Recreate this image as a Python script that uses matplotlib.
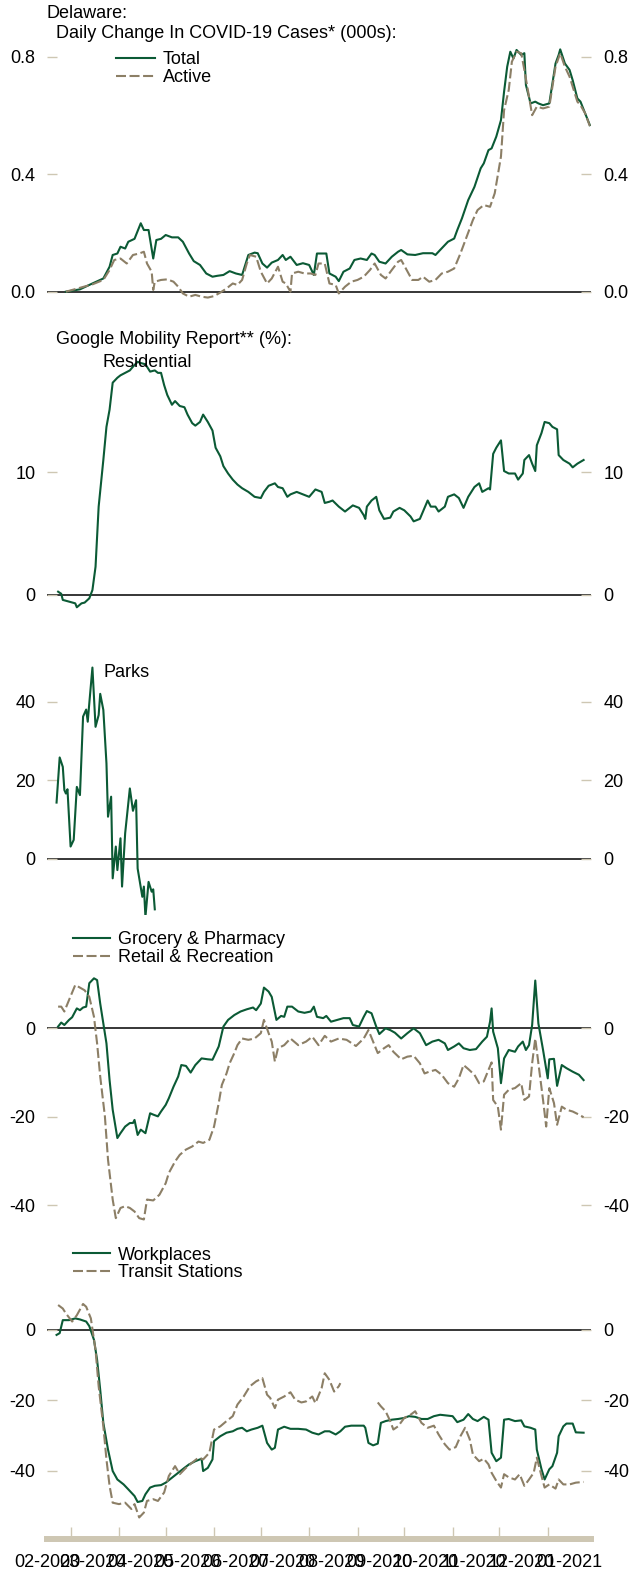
import numpy as np
import pandas as pd
import matplotlib
matplotlib.use('Agg')
import matplotlib.pyplot as plt
import matplotlib.dates as mdates

plt.rcParams['font.family'] = ['Liberation Sans', 'DejaVu Sans']

GREEN = '#0b5a35'
TAN = '#8c7f66'
TICK = '#cec7b3'
FS = 13

START = pd.Timestamp('2020-02-15')
END = pd.Timestamp('2021-01-29')

# daily change in covid-19 cases (000s), x = days since START
total_day = [12,21,29,36,40,42,45,47,50,52,56,60,62,65,68,70,73,76,80,84,87,91,94,98,102,106,109,113,117,121,
             125,129,133,135,138,141,144,148,151,153,156,160,164,168,171,173,177,179,181,185,187,190,194,197,201,205,208,210,213,217,
             221,225,227,231,236,241,247,249,252,257,261,263,266,270,274,278,280,283,285,288,291,293,295,297,299,301,304,306,307,310,
             313,315,318,322,326,328,329,332,335,337,340,342,345,348]
total_val = [0.0,0.008,0.028,0.045,0.085,0.125,0.13,0.153,0.147,0.17,0.18,0.233,0.21,0.21,0.113,0.176,0.18,0.193,0.185,0.185,
             0.17,0.13,0.104,0.091,0.062,0.051,0.054,0.057,0.07,0.062,0.057,0.125,0.133,0.131,0.096,0.082,0.099,0.108,0.125,0.108,
             0.119,0.091,0.097,0.091,0.057,0.13,0.13,0.13,0.062,0.051,0.036,0.068,0.079,0.108,0.113,0.108,0.13,0.125,0.102,0.096,
             0.119,0.136,0.142,0.127,0.125,0.131,0.131,0.125,0.142,0.17,0.181,0.21,0.25,0.312,0.357,0.42,0.437,0.482,0.488,0.528,
             0.584,0.681,0.766,0.817,0.794,0.823,0.806,0.812,0.704,0.641,0.647,0.641,0.635,0.641,0.777,0.806,0.825,0.777,0.755,0.72,
             0.658,0.647,0.607,0.567]
active_day = [12,29,36,40,43,47,51,55,59,62,64,67,68,69,73,77,81,84,87,91,95,99,103,107,111,115,119,122,125,128,
              130,134,137,141,144,148,151,153,156,157,161,165,169,172,174,178,181,185,187,191,195,199,203,207,210,214,217,221,225,227,
              230,234,238,241,245,249,253,257,261,265,269,273,276,280,284,287,291,293,296,298,301,304,306,309,311,314,318,322,326,329,
              332,335,337,340,342,345,348]
active_val = [0.0,0.025,0.04,0.074,0.108,0.113,0.096,0.125,0.13,0.136,0.096,0.068,0.006,0.034,0.04,0.042,0.034,0.017,-0.006,-0.017,
              -0.011,-0.017,-0.02,-0.015,-0.003,0.011,0.028,0.023,0.04,0.096,0.125,0.119,0.068,0.028,0.045,0.085,0.034,0.028,0.0,0.062,
              0.068,0.062,0.062,0.057,0.096,0.096,0.028,0.023,-0.006,0.017,0.034,0.04,0.051,0.074,0.096,0.057,0.045,0.074,0.102,0.108,
              0.079,0.04,0.04,0.051,0.034,0.04,0.062,0.068,0.079,0.13,0.187,0.244,0.278,0.295,0.289,0.335,0.46,0.618,0.687,0.783,
              0.817,0.812,0.755,0.664,0.601,0.63,0.624,0.63,0.766,0.812,0.766,0.732,0.698,0.647,0.635,0.607,0.564]

# google mobility report (%)
res_day = [7,9,10,14,18,19,22,24,27,29,31,33,36,38,40,42,45,47,50,53,55,58,60,63,66,69,71,73,75,77,
           80,82,85,88,90,93,95,98,100,103,106,108,111,113,116,119,122,125,129,133,137,139,142,146,148,151,154,156,160,164,
           168,172,176,178,181,183,187,191,194,196,200,203,204,205,208,211,213,216,220,222,226,229,233,235,239,242,244,246,249,251,
           255,257,261,264,267,270,274,277,279,283,284,286,288,291,293,296,300,302,305,306,309,311,313,314,317,319,322,324,327,328,
           331,335,337,340,344]
res_val = [0.27,0.1,-0.4,-0.54,-0.68,-1.0,-0.68,-0.62,-0.27,0.4,2.3,7.2,11.0,13.7,15.1,17.3,17.7,17.9,18.1,18.3,
           18.6,19.0,18.9,18.8,18.2,18.3,18.1,18.1,17.1,16.3,15.5,15.8,15.4,15.3,14.7,14.0,13.8,14.1,14.7,14.1,
           13.4,12.0,11.3,10.5,9.9,9.4,9.0,8.7,8.4,8.0,7.9,8.4,8.9,9.1,8.8,8.7,8.0,8.2,8.4,8.2,
           8.0,8.6,8.4,7.5,7.6,7.7,7.2,6.8,7.1,7.3,7.1,6.5,6.2,7.2,7.7,8.0,6.9,6.2,6.3,6.8,
           7.1,6.9,6.4,6.0,6.2,7.1,7.7,7.2,7.2,6.8,7.2,8.0,8.2,7.9,7.1,8.0,8.8,9.1,8.4,8.7,
           8.6,11.5,12.0,12.6,10.1,9.9,9.9,9.4,9.9,11.0,11.4,10.7,10.1,12.2,13.2,14.1,14.0,13.7,13.5,11.4,
           11.0,10.7,10.4,10.7,11.0]

parks_day = [6,8,10,11,12,13,15,17,19,21,23,25,26,27,29,31,33,34,36,38,39,41,42,44,45,47,48,50,53,55,57,58,61,62,63,65,67,68,69]
parks_val = [14.3,25.8,23.4,17.5,16.6,17.7,3.1,4.8,18.3,16.2,36.2,38.0,34.9,39.6,48.7,33.6,36.6,42.0,37.9,24.3,
             10.7,15.8,-5.0,3.1,-2.9,5.2,-7.1,6.5,17.9,12.2,14.9,-2.5,-9.7,-7.1,-14.8,-5.9,-8.4,-7.8,-12.9]

groc_day = [7,9,11,14,16,19,21,23,25,27,30,32,34,38,40,42,45,47,50,53,55,56,58,60,63,66,68,71,73,76,
            78,81,84,86,89,92,95,99,103,106,110,113,116,120,124,128,132,134,137,139,142,144,147,150,152,154,157,161,165,169,
            171,173,177,179,182,186,190,194,196,200,203,205,208,211,213,217,220,223,227,231,235,239,243,247,251,255,257,261,264,267,
            271,275,279,282,284,285,286,289,291,293,296,300,302,305,307,309,311,313,315,318,321,322,325,327,330,333,337,341,344]
groc_val = [0.4,1.3,0.75,1.9,2.5,4.5,4.1,4.7,4.9,10.2,11.3,10.9,5.6,-3.4,-11.7,-18.4,-24.8,-23.7,-22.2,-21.4,
            -21.4,-20.7,-24.1,-22.9,-23.7,-19.2,-19.5,-19.9,-18.8,-17.3,-15.8,-13.2,-10.9,-8.3,-8.5,-10.0,-8.3,-6.8,-7.0,-7.1,
            -4.1,0.4,1.9,3.0,3.8,4.3,4.7,4.1,5.6,9.2,8.3,7.1,1.9,2.8,2.6,4.9,4.9,3.8,3.5,3.8,
            4.9,2.6,2.3,2.8,1.5,1.9,2.3,2.3,0.75,0.4,2.6,3.9,3.4,0.4,-1.3,0,-0.4,-1.0,-2.3,-1.1,
            0,-1.1,-3.8,-3.0,-2.6,-3.4,-4.9,-4.1,-3.4,-4.5,-4.9,-4.7,-3.0,-1.9,1.5,4.5,-0.75,-4.5,-12.4,-6.8,
            -4.9,-5.3,-4.1,-3.0,-4.9,-3.8,0.75,10.8,1.1,-4.9,-11.3,-7.0,-6.9,-13.0,-8.3,-9.0,-9.8,-10.5,-11.7]

retail_day = [7,9,11,14,18,20,24,27,30,32,34,37,39,42,44,47,50,53,56,59,62,64,68,72,76,78,82,85,89,93,
              97,100,104,107,110,112,115,117,120,122,125,129,133,137,139,142,144,146,148,152,156,161,166,170,174,178,182,187,192,198,
              203,206,209,212,216,219,222,227,231,235,239,242,245,249,253,257,261,264,267,270,274,277,280,283,285,286,289,291,293,296,
              300,304,306,309,311,313,315,318,320,322,325,327,330,333,337,341,344]
retail_val = [4.9,4.9,3.8,6.4,9.8,9.4,8.6,7.1,2.6,-3.4,-10.9,-19.9,-29.7,-38.7,-42.9,-40.6,-40.2,-40.6,-41.4,-42.9,
              -43.2,-38.7,-38.9,-37.6,-35.0,-32.7,-30.1,-28.6,-27.4,-26.7,-25.6,-25.9,-25.2,-22.2,-16.9,-12.8,-10.2,-7.9,-5.6,-3.8,
              -2.3,-2.6,-2.3,-1.1,1.9,-1.1,-3.0,-7.5,-4.5,-3.8,-2.3,-3.8,-3.0,-1.9,-3.8,-1.7,-3.0,-2.3,-2.6,-4.0,
              -2.3,-0.4,-3.0,-5.6,-4.5,-3.8,-5.3,-7.0,-6.4,-6.2,-7.9,-10.2,-9.8,-9.4,-10.5,-12.4,-13.2,-11.3,-8.3,-9.2,
              -10.5,-12.4,-12.0,-9.4,-7.7,-16.2,-17.7,-22.9,-15.0,-13.9,-13.5,-12.4,-16.2,-15.4,-7.9,-2.3,-7.9,-16.2,-22.2,-13.5,
              -16.9,-21.8,-17.7,-18.4,-18.8,-19.5,-20.1]

work_day = [6,8,10,14,18,21,25,27,30,32,34,36,39,42,45,49,52,56,58,61,63,66,69,73,76,80,84,88,91,95,
            99,100,103,106,107,111,115,119,122,125,128,131,135,138,141,144,146,148,152,156,161,166,170,174,178,181,185,188,191,195,
            199,203,204,206,209,212,214,217,221,225,229,232,236,240,244,248,252,256,260,263,267,270,273,276,280,283,285,288,291,293,
            296,300,304,306,310,313,314,317,319,322,324,327,328,331,333,337,339,344]
work_val = [-1.4,-0.9,2.8,2.8,3.3,3.0,2.4,1.1,-2.8,-8.5,-17.0,-26.4,-34.0,-40.1,-42.5,-43.9,-45.3,-47.2,-48.9,-48.6,
            -46.7,-44.8,-44.3,-44.1,-43.4,-42.0,-40.6,-39.2,-38.2,-37.3,-36.6,-40.1,-39.2,-36.8,-31.6,-30.2,-29.2,-28.8,-28.1,-27.8,
            -28.8,-28.3,-27.8,-27.2,-32.1,-34.0,-33.5,-28.3,-27.5,-28.1,-28.1,-28.3,-29.2,-29.7,-28.8,-28.8,-29.7,-28.8,-27.5,-27.2,
            -27.2,-27.2,-27.8,-32.1,-32.8,-32.3,-26.4,-25.9,-25.5,-25.3,-25.0,-24.5,-24.7,-25.3,-25.3,-24.5,-24.1,-24.3,-24.5,-26.2,
            -25.5,-23.9,-25.3,-25.9,-24.7,-25.5,-34.9,-37.3,-36.3,-25.5,-25.3,-25.9,-25.7,-27.4,-27.8,-28.3,-34.0,-39.6,-42.5,-39.6,
            -38.7,-34.9,-30.2,-27.4,-26.6,-26.6,-29.1,-29.2]

transit_day = [7,10,12,16,19,23,25,28,31,33,36,38,40,42,46,50,54,56,59,62,64,68,71,75,78,82,85,89,93,97,
               100,104,107,111,115,119,122,126,130,134,138,141,143,146,148,152,156,159,163,166,170,172,176,178,181,184,187,188,200,212,
               214,217,220,222,225,229,233,236,240,244,248,251,255,258,262,265,268,271,273,277,280,283,285,288,291,293,296,300,303,306,
               309,312,314,317,319,322,326,328,331,335,339,344]
transit_val = [7.1,6.1,4.7,2.4,4.2,7.4,6.6,3.3,-5.7,-16.0,-27.4,-36.8,-44.3,-49.1,-49.5,-49.1,-50.9,-49.5,-53.3,-51.9,
               -48.6,-48.1,-48.6,-46.2,-41.5,-38.7,-41.0,-39.2,-37.7,-36.3,-36.8,-34.9,-28.3,-27.4,-25.9,-24.5,-21.2,-18.9,-16.0,-14.6,
               -13.7,-18.4,-19.3,-22.2,-19.8,-18.9,-17.7,-19.8,-20.6,-20.3,-18.9,-20.8,-16.5,-12.3,-14.2,-17.5,-16.0,-15.1,np.nan,-20.6,
               -21.7,-23.1,-25.9,-28.3,-27.4,-25.0,-24.1,-23.1,-26.4,-27.8,-27.2,-29.7,-32.5,-34.0,-33.3,-30.2,-27.8,-31.1,-35.4,-37.3,
               -36.6,-38.2,-40.6,-42.9,-44.8,-41.0,-41.9,-42.5,-41.0,-44.3,-42.5,-40.6,-36.3,-41.5,-44.8,-43.9,-45.1,-42.5,-43.9,-43.9,
               -43.4,-43.2]


def dates(days):
    return START + pd.to_timedelta(days, unit='D')


W, H = 633, 1574
fig = plt.figure(figsize=(W / 100, H / 100), dpi=100)


def make_ax(top, bot, ylim, yticks, fmt):
    ax = fig.add_axes([47.2 / W, 1 - bot / H, 544.2 / W, (bot - top) / H])
    ax.patch.set_visible(False)
    for s in ax.spines.values():
        s.set_visible(False)
    ax.set_xlim(START, END)
    ax.set_ylim(*ylim)
    ax.set_yticks(yticks)
    ax.set_yticklabels([fmt.format(t) for t in yticks])
    ax.tick_params(axis='y', direction='in', length=7.2, width=1, color=TICK,
                   left=True, right=True, labelleft=True, labelright=True,
                   pad=8.5, labelsize=FS)
    ax.tick_params(axis='x', which='both', bottom=False, labelbottom=False)
    ax.axhline(0, color='black', lw=1.1, zorder=1)
    return ax


def px(x, y):
    return x / W, 1 - y / H


def add_legend(handles, x, y, hl):
    fig.legend(handles=handles, loc='upper left', bbox_to_anchor=px(x, y), frameon=False,
               fontsize=FS, handlelength=hl, handletextpad=0.45, labelspacing=0.02,
               borderpad=0, borderaxespad=0)


dash = (0, (4.8, 1.7))

# panel 1: covid cases
ax1 = make_ax(20, 305, (-0.0453, 0.925), [0, 0.4, 0.8], '{:.1f}')
l1, = ax1.plot(dates(total_day), total_val, color=GREEN, lw=1.5, label='Total', zorder=3)
l2, = ax1.plot(dates(active_day), active_val, color=TAN, lw=1.5, ls=dash, label='Active', zorder=4)
fig.text(*px(47, 13), 'Delaware:', fontsize=FS, va='center', ha='left')
fig.text(*px(56.5, 34), 'Daily Change In COVID-19 Cases* (000s):', fontsize=FS, va='center', ha='left')
add_legend([l1, l2], 116, 51.5, 2.15)

# panel 2: residential
ax2 = make_ax(345, 615, (-1.63, 20.37), [0, 10], '{:.0f}')
ax2.plot(dates(res_day), res_val, color=GREEN, lw=1.5, zorder=3)
fig.text(*px(56.5, 339), 'Google Mobility Report** (%):', fontsize=FS, va='center', ha='left')
fig.text(*px(103, 362.7), 'Residential', fontsize=FS, va='center', ha='left')

# panel 3: parks
ax3 = make_ax(650, 915, (-14.34, 53.17), [0, 20, 40], '{:.0f}')
ax3.plot(dates(parks_day), parks_val, color=GREEN, lw=1.5, zorder=3)
fig.text(*px(103.3, 672.3), 'Parks', fontsize=FS, va='center', ha='left')

# panel 4: grocery & retail
ax4 = make_ax(960, 1230, (-45.58, 15.44), [-40, -20, 0], '{:.0f}')
g1, = ax4.plot(dates(groc_day), groc_val, color=GREEN, lw=1.5, label='Grocery & Pharmacy', zorder=3)
g2, = ax4.plot(dates(retail_day), retail_val, color=TAN, lw=1.5, ls=dash, label='Retail & Recreation', zorder=4)
add_legend([g1, g2], 72.7, 931.5, 2.05)

# panel 5: workplaces & transit
ax5 = make_ax(1290, 1539, (-59.42, 11.37), [-40, -20, 0], '{:.0f}')
w1, = ax5.plot(dates(work_day), work_val, color=GREEN, lw=1.5, label='Workplaces', zorder=3)
w2, = ax5.plot(dates(transit_day), transit_val, color=TAN, lw=1.5, ls=dash, label='Transit Stations', zorder=4)
add_legend([w1, w2], 72.7, 1246.5, 2.05)

ax5.spines['bottom'].set_visible(True)
ax5.spines['bottom'].set_color(TICK)
ax5.spines['bottom'].set_linewidth(4.3)
ax5.xaxis.set_major_locator(mdates.MonthLocator())
ax5.xaxis.set_major_formatter(plt.NullFormatter())
ax5.xaxis.set_minor_locator(mdates.MonthLocator(bymonthday=15))
ax5.xaxis.set_minor_formatter(mdates.DateFormatter('%m-%Y'))
ax5.tick_params(axis='x', which='major', bottom=True, direction='in', length=8.6, width=1,
                color=TICK, labelbottom=False)
ax5.tick_params(axis='x', which='minor', bottom=True, length=0, pad=11,
                labelbottom=True, labelsize=FS)
for t in ax5.get_xticklabels(minor=True):
    t.set_family(['Liberation Sans Narrow', 'Liberation Sans'])

fig.savefig('out.png', dpi=100)
